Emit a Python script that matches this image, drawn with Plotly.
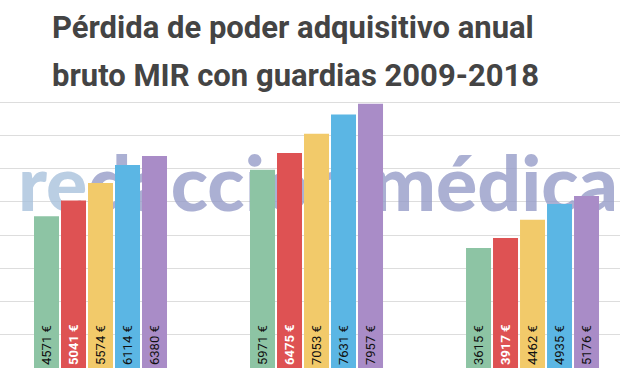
import plotly.graph_objects as go

# ---- data ----
categories = ["Grupo 1", "Grupo 2", "Grupo 3"]
series_names = ["Serie 1", "Serie 2", "Serie 3", "Serie 4", "Serie 5"]
s1_values = [4571, 5971, 3615]
s2_values = [5041, 6475, 3917]
s3_values = [5574, 7053, 4462]
s4_values = [6114, 7631, 4935]
s5_values = [6380, 7957, 5176]
all_values = [s1_values, s2_values, s3_values, s4_values, s5_values]
title_line1 = "Pérdida de poder adquisitivo anual"
title_line2 = "bruto MIR con guardias 2009-2018"
watermark = "<span style='color:#A9C2DC'>re</span>dacción médica"

# ---- style ----
colors = ["#8DC4A4", "#DE5253", "#F2CA6A", "#5BB6E4", "#A98CC7"]
label_colors = ["#111111", "#FFFFFF", "#111111", "#111111", "#111111"]
label_weights = ["normal", "bold", "normal", "normal", "normal"]

fig = go.Figure()

# watermark on the base subplot (drawn beneath the bars)
fig.add_trace(go.Scatter(
    x=[318], y=[5300], mode="text", text=[watermark],
    textposition="middle center",
    textfont=dict(family="Lato", size=77, color="rgba(150,156,200,0.8)", weight=900),
    hoverinfo="skip", showlegend=False, xaxis="x", yaxis="y",
))

for name, vals, c, lc, lw in zip(series_names, all_values, colors, label_colors, label_weights):
    fig.add_trace(go.Bar(
        x=categories, y=vals, name=name, marker=dict(color=c, line=dict(width=0)),
        text=[f"{v} €" for v in vals], textposition="inside", textangle=-90,
        insidetextanchor="start",
        textfont=dict(family="Roboto", size=13, color=lc, weight=lw),
        xaxis="x2", yaxis="y2", showlegend=False, hoverinfo="skip",
    ))

fig.update_layout(
    width=620, height=368,
    margin=dict(l=0, r=0, t=99, b=0),
    paper_bgcolor="white", plot_bgcolor="white",
    barmode="group", bargap=0.375, bargroupgap=0.074,
    showlegend=False,
    xaxis=dict(range=[0, 620], showgrid=False, zeroline=False, showticklabels=False,
               showline=True, linecolor="#444444", linewidth=2, ticks=""),
    yaxis=dict(range=[0, 8100], dtick=1000, showgrid=True, gridcolor="#DDDDDD", gridwidth=1,
               zeroline=False, showticklabels=False, ticks=""),
    xaxis2=dict(overlaying="x", range=[-0.4653, 2.405], showgrid=False, zeroline=False,
                showticklabels=False, showline=False, ticks="", anchor="y2"),
    yaxis2=dict(overlaying="y", range=[0, 8100], showgrid=False, zeroline=False,
                showticklabels=False, showline=False, ticks="", anchor="x2"),
    annotations=[
        dict(text=title_line1, xref="paper", yref="paper", x=50/620, y=1.2673,
             xanchor="left", yanchor="middle", showarrow=False,
             font=dict(family="Roboto", size=31, color="#444444", weight="bold")),
        dict(text=title_line2, xref="paper", yref="paper", x=50/620, y=1.0859,
             xanchor="left", yanchor="middle", showarrow=False,
             font=dict(family="Roboto", size=31, color="#444444", weight="bold")),
    ],
)

fig.write_html("out.html", config={"displayModeBar": False},
               post_script="document.body.style.margin='0';document.body.style.overflow='hidden';")
